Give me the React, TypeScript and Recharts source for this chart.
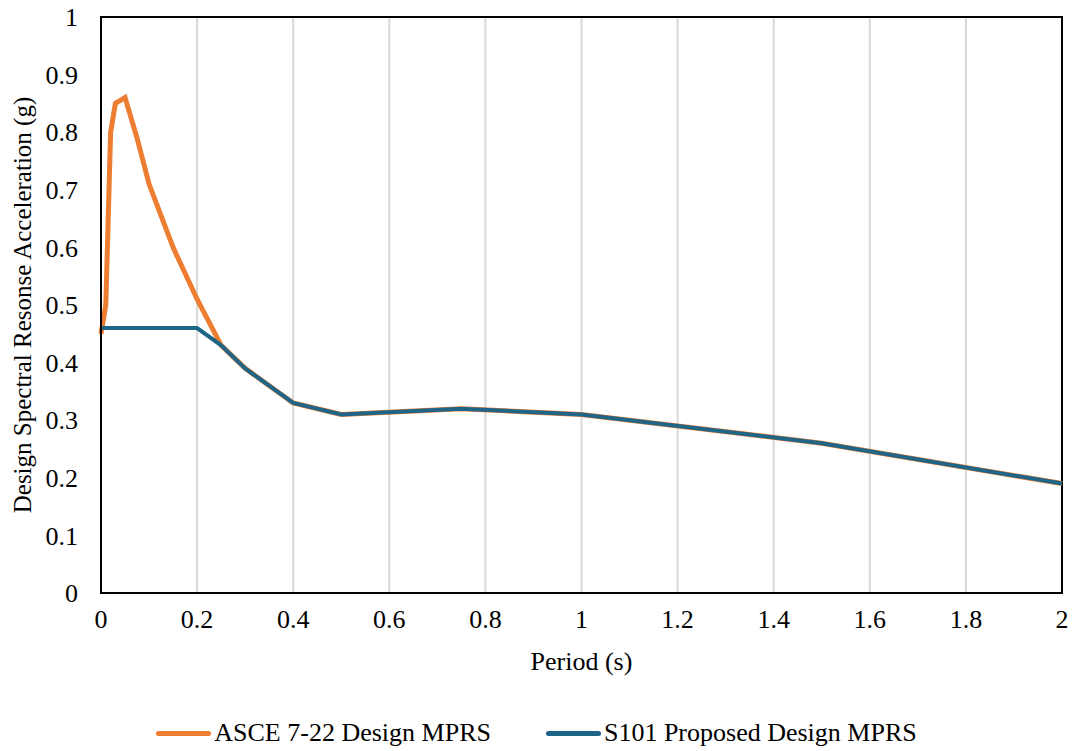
import React from "react";
import {
  LineChart,
  Line,
  XAxis,
  YAxis,
  CartesianGrid,
  Legend,
  ReferenceArea,
} from "recharts";

// Period (s) and spectral acceleration (g)
const ascePeriod = [0, 0.01, 0.02, 0.03, 0.05, 0.075, 0.1, 0.15, 0.2, 0.25, 0.3, 0.4, 0.5, 0.75, 1, 1.5, 2];
const asceAccel = [0.45, 0.5, 0.8, 0.85, 0.86, 0.79, 0.71, 0.6, 0.51, 0.43, 0.39, 0.33, 0.31, 0.32, 0.31, 0.26, 0.19];

const s101Period = [0, 0.2, 0.25, 0.3, 0.4, 0.5, 0.75, 1, 1.5, 2];
const s101Accel = [0.46, 0.46, 0.43, 0.39, 0.33, 0.31, 0.32, 0.31, 0.26, 0.19];

const xTicks = [0, 0.2, 0.4, 0.6, 0.8, 1, 1.2, 1.4, 1.6, 1.8, 2];
const yTicks = [0, 0.1, 0.2, 0.3, 0.4, 0.5, 0.6, 0.7, 0.8, 0.9, 1];

const ORANGE = "#ED7D31";
const BLUE = "#1F6587";
const FONT = "'Liberation Serif', 'Times New Roman', serif";

const asceData = ascePeriod.map((t, i) => ({ t, v: asceAccel[i] }));
const s101Data = s101Period.map((t, i) => ({ t, v: s101Accel[i] }));

const series = [
  { name: "ASCE 7-22 Design MPRS", color: ORANGE },
  { name: "S101 Proposed Design MPRS", color: BLUE },
];

const tickStyle = { fill: "#000", fontSize: 26, fontFamily: FONT };

function LegendRow() {
  return (
    <div
      style={{
        display: "flex",
        justifyContent: "center",
        gap: 55,
        fontFamily: FONT,
        fontSize: 26,
        lineHeight: "30px",
        color: "#000",
      }}
    >
      {series.map((s) => (
        <div key={s.name} style={{ display: "flex", alignItems: "center" }}>
          <span
            style={{
              display: "inline-block",
              width: 55,
              height: 5,
              borderRadius: 3,
              background: s.color,
              marginRight: 3,
            }}
          />
          {s.name}
        </div>
      ))}
    </div>
  );
}

export default function App() {
  return (
    <div
      style={{
        position: "absolute",
        left: 0,
        top: 0,
        background: "#fff",
        fontFamily: FONT,
      }}
    >
      <LineChart
        width={1073}
        height={751}
        margin={{ top: 17, right: 11, left: 51, bottom: 98 }}
      >
        <CartesianGrid horizontal={false} stroke="#d9d9d9" strokeWidth={2} />
        <XAxis
          dataKey="t"
          type="number"
          domain={[0, 2]}
          ticks={xTicks}
          tickFormatter={(v: number) => String(v)}
          tick={tickStyle}
          tickLine={false}
          tickSize={0}
          tickMargin={17}
          height={30}
          axisLine={{ stroke: "#000", strokeWidth: 2 }}
          label={{
            value: "Period (s)",
            position: "insideBottom",
            offset: -47,
            style: { fill: "#000", fontSize: 26, fontFamily: FONT },
          }}
        />
        <YAxis
          type="number"
          domain={[0, 1]}
          ticks={yTicks}
          tickFormatter={(v: number) => String(v)}
          tick={tickStyle}
          tickLine={false}
          tickSize={0}
          tickMargin={23}
          width={50}
          axisLine={{ stroke: "#000", strokeWidth: 2 }}
          label={{
            value: "Design Spectral Resonse Acceleration (g)",
            angle: -90,
            position: "insideLeft",
            offset: -29,
            style: { fill: "#000", fontSize: 25, fontFamily: FONT, textAnchor: "middle" },
          }}
        />
        {/* plot frame */}
        <ReferenceArea
          x1={0}
          x2={2}
          y1={0}
          y2={1}
          fill="none"
          stroke="#000"
          strokeWidth={2}
        />
        <Legend
          verticalAlign="bottom"
          wrapperStyle={{ bottom: 3, left: 0, width: 1073 }}
          content={() => <LegendRow />}
        />
        <Line
          data={asceData}
          dataKey="v"
          name={series[0].name}
          type="linear"
          stroke={ORANGE}
          strokeWidth={5}
          dot={false}
          isAnimationActive={false}
        />
        <Line
          data={s101Data}
          dataKey="v"
          name={series[1].name}
          type="linear"
          stroke={BLUE}
          strokeWidth={4}
          dot={false}
          isAnimationActive={false}
        />
      </LineChart>
    </div>
  );
}
